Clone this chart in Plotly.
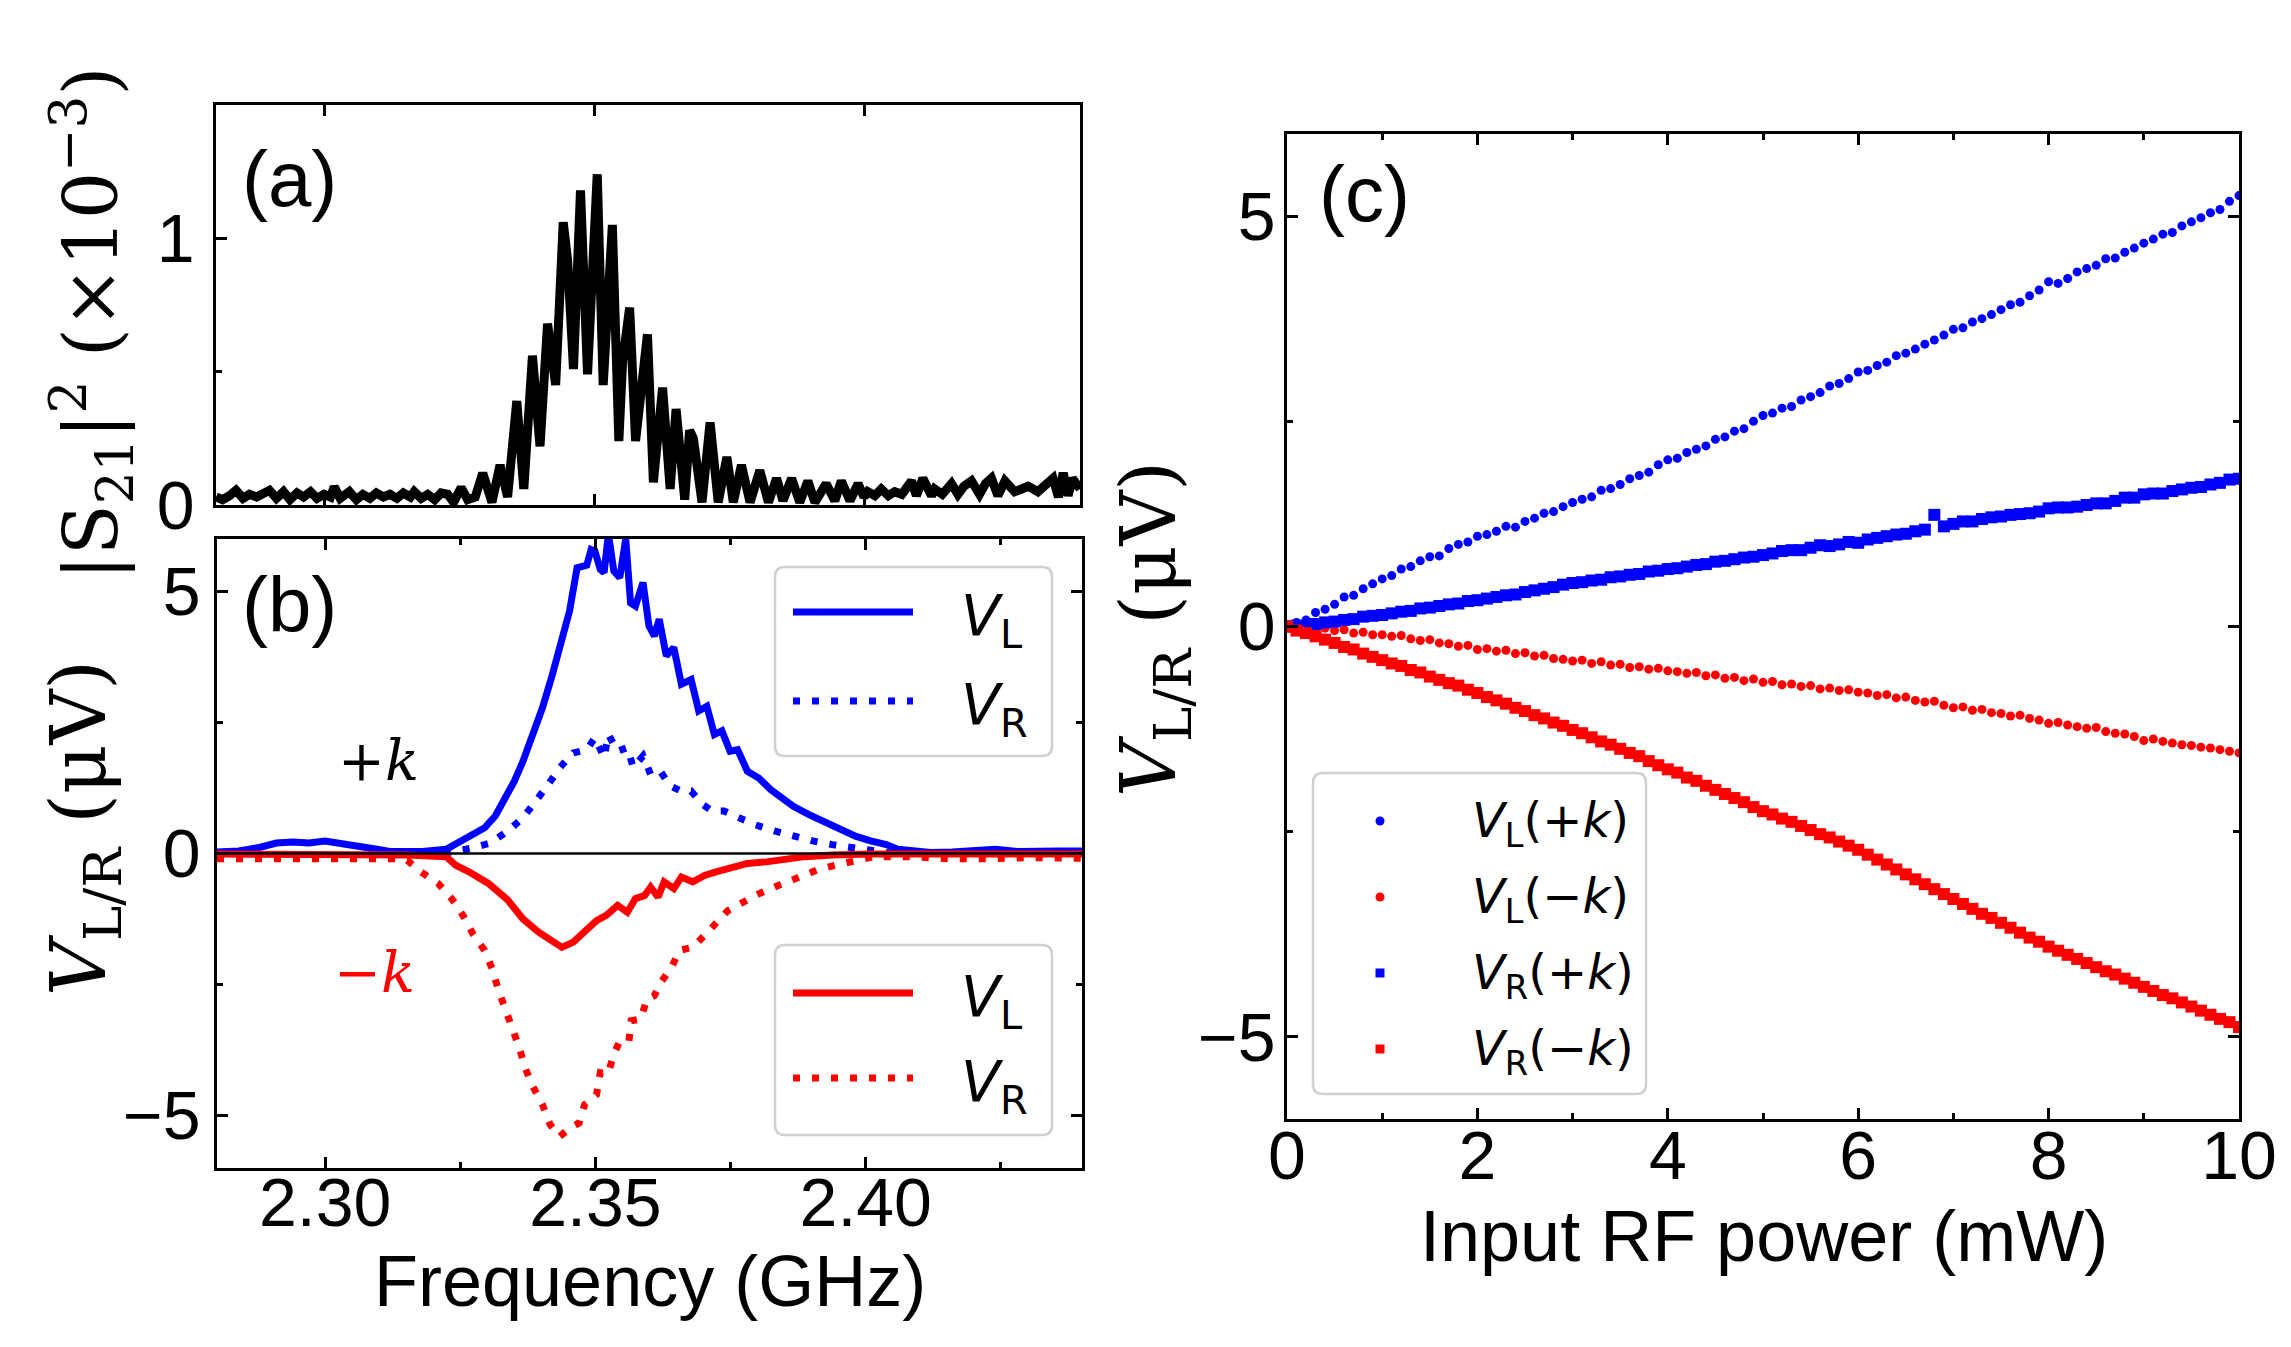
import plotly.graph_objects as go

W, H = 2291, 1347

# ---------------- Panel (a): |S21|^2 (x1e-3) vs frequency ----------------
freq_a = [2.2800, 2.2812, 2.2825, 2.2837, 2.2850, 2.2862, 2.2875, 2.2887, 2.2899, 2.2912,
          2.2925, 2.2937, 2.2950, 2.2962, 2.2975, 2.2987, 2.3000, 2.3012, 2.3019, 2.3030,
          2.3047, 2.3060, 2.3072, 2.3085, 2.3097, 2.3110, 2.3122, 2.3135, 2.3147, 2.3160,
          2.3167, 2.3180, 2.3192, 2.3205, 2.3217, 2.3229, 2.3240, 2.3254, 2.3266, 2.3280,
          2.3294, 2.3311, 2.3326, 2.3340, 2.3357, 2.3370, 2.3386, 2.3400, 2.3414, 2.3429,
          2.3443, 2.3451, 2.3462, 2.3475, 2.3488, 2.3506, 2.3517, 2.3534, 2.3546, 2.3553,
          2.3566, 2.3577, 2.3599, 2.3610, 2.3627, 2.3641, 2.3652, 2.3668, 2.3677, 2.3684,
          2.3700, 2.3715, 2.3730, 2.3746, 2.3758, 2.3773, 2.3789, 2.3807, 2.3823, 2.3838,
          2.3850, 2.3866, 2.3881, 2.3896, 2.3909, 2.3930, 2.3946, 2.3958, 2.3974, 2.3989,
          2.4000, 2.4007, 2.4020, 2.4032, 2.4045, 2.4057, 2.4070, 2.4088, 2.4097, 2.4109,
          2.4125, 2.4131, 2.4145, 2.4162, 2.4174, 2.4185, 2.4199, 2.4214, 2.4225, 2.4236,
          2.4248, 2.4261, 2.4279, 2.4292, 2.4304, 2.4322, 2.4335, 2.4350, 2.4360, 2.4369,
          2.4378, 2.4386, 2.4400]
s21 = [0.030, 0.020, 0.035, 0.055, 0.025, 0.040, 0.030, 0.045, 0.055, 0.025,
       0.050, 0.020, 0.045, 0.030, 0.050, 0.025, 0.040, 0.030, 0.068, 0.025,
       0.050, 0.020, 0.040, 0.025, 0.045, 0.030, 0.040, 0.025, 0.045, 0.030,
       0.050, 0.025, 0.040, 0.020, 0.045, 0.040, 0.010, 0.065, 0.020, 0.030,
       0.120, 0.010, 0.150, 0.030, 0.390, 0.060, 0.560, 0.220, 0.680, 0.450,
       1.060, 0.920, 0.510, 1.180, 0.490, 1.240, 0.450, 1.050, 0.240, 0.540,
       0.740, 0.240, 0.640, 0.085, 0.440, 0.060, 0.360, 0.020, 0.280, 0.250,
       0.010, 0.310, 0.010, 0.180, 0.010, 0.150, 0.010, 0.130, 0.010, 0.100,
       0.016, 0.100, 0.010, 0.090, 0.010, 0.080, 0.016, 0.090, 0.016, 0.080,
       0.030, 0.050, 0.035, 0.060, 0.035, 0.050, 0.040, 0.090, 0.035, 0.100,
       0.035, 0.060, 0.040, 0.080, 0.040, 0.070, 0.090, 0.040, 0.080, 0.100,
       0.035, 0.090, 0.050, 0.060, 0.070, 0.050, 0.070, 0.100, 0.030, 0.120,
       0.035, 0.100, 0.060]

# ---------------- Panel (b): V_L / V_R vs frequency ----------------
freq_vl_pk = [2.2800, 2.2840, 2.2880, 2.2910, 2.2940, 2.2970, 2.3000, 2.3030, 2.3060, 2.3090,
              2.3120, 2.3150, 2.3180, 2.3224, 2.3245, 2.3270, 2.3295, 2.3315, 2.3331, 2.3350,
              2.3366, 2.3385, 2.3402, 2.3420, 2.3438, 2.3452, 2.3466, 2.3484, 2.3492, 2.3499,
              2.3509, 2.3516, 2.3524, 2.3534, 2.3545, 2.3556, 2.3565, 2.3574, 2.3588, 2.3599,
              2.3609, 2.3618, 2.3631, 2.3645, 2.3659, 2.3677, 2.3691, 2.3706, 2.3720, 2.3734,
              2.3749, 2.3763, 2.3781, 2.3802, 2.3824, 2.3845, 2.3866, 2.3895, 2.3924, 2.3952,
              2.3981, 2.4009, 2.4038, 2.4059, 2.4080, 2.4120, 2.4160, 2.4200, 2.4240, 2.4280,
              2.4320, 2.4360, 2.4400]
vl_pk = [0.03, 0.05, 0.12, 0.20, 0.22, 0.20, 0.24, 0.20, 0.14, 0.09,
         0.04, 0.03, 0.04, 0.08, 0.20, 0.33, 0.49, 0.72, 1.00, 1.38,
         1.76, 2.30, 2.78, 3.40, 4.05, 4.62, 5.45, 5.50, 5.80, 5.77,
         5.42, 5.36, 6.10, 5.39, 5.26, 6.00, 4.78, 4.72, 5.17, 4.34,
         4.15, 4.47, 3.77, 3.93, 3.23, 3.32, 2.72, 2.81, 2.27, 2.34,
         1.95, 1.98, 1.57, 1.44, 1.22, 1.06, 0.90, 0.74, 0.59, 0.46,
         0.33, 0.24, 0.17, 0.08, 0.05, 0.02, 0.03, 0.06, 0.08, 0.04,
         0.06, 0.05, 0.05]

freq_vr_pk = [2.3220, 2.3245, 2.3274, 2.3306, 2.3338, 2.3366, 2.3391, 2.3413, 2.3434, 2.3459,
              2.3484, 2.3499, 2.3516, 2.3524, 2.3541, 2.3559, 2.3570, 2.3588, 2.3602, 2.3620,
              2.3638, 2.3659, 2.3677, 2.3698, 2.3716, 2.3738, 2.3766, 2.3795, 2.3831, 2.3866,
              2.3902, 2.3938, 2.3981, 2.4009, 2.4050]
vr_pk = [0.00, 0.04, 0.11, 0.20, 0.43, 0.68, 1.00, 1.32, 1.64, 1.92,
         1.98, 2.21, 1.83, 2.27, 1.95, 2.02, 1.64, 1.86, 1.51, 1.57,
         1.29, 1.19, 1.19, 0.94, 0.81, 0.81, 0.68, 0.55, 0.43, 0.33,
         0.24, 0.17, 0.11, 0.04, 0.00]

freq_vl_mk = [2.2800, 2.3000, 2.3152, 2.3224, 2.3241, 2.3266, 2.3302, 2.3338, 2.3366, 2.3395,
              2.3420, 2.3438, 2.3459, 2.3481, 2.3502, 2.3520, 2.3541, 2.3559, 2.3574, 2.3591,
              2.3602, 2.3616, 2.3627, 2.3645, 2.3659, 2.3680, 2.3702, 2.3723, 2.3752, 2.3781,
              2.3816, 2.3852, 2.3888, 2.3938, 2.4009, 2.4400]
vl_mk = [-0.01, -0.01, -0.03, -0.06, -0.22, -0.35, -0.57, -0.89, -1.25, -1.50,
         -1.69, -1.79, -1.69, -1.47, -1.28, -1.18, -0.99, -1.12, -0.86, -0.80,
         -0.64, -0.83, -0.54, -0.67, -0.45, -0.54, -0.42, -0.35, -0.26, -0.19,
         -0.16, -0.10, -0.06, -0.03, -0.01, -0.01]

freq_vr_mk = [2.2800, 2.2900, 2.3000, 2.3100, 2.3137, 2.3152, 2.3177, 2.3209, 2.3234, 2.3255,
              2.3273, 2.3295, 2.3309, 2.3320, 2.3334, 2.3348, 2.3359, 2.3370, 2.3384, 2.3402,
              2.3416, 2.3434, 2.3452, 2.3470, 2.3480, 2.3502, 2.3509, 2.3523, 2.3534, 2.3545,
              2.3562, 2.3566, 2.3584, 2.3595, 2.3609, 2.3623, 2.3641, 2.3655, 2.3680, 2.3702,
              2.3723, 2.3745, 2.3773, 2.3802, 2.3838, 2.3873, 2.3909, 2.3945, 2.3981, 2.4016,
              2.4080, 2.4152, 2.4223, 2.4300, 2.4400]
vr_mk = [-0.10, -0.10, -0.09, -0.10, -0.10, -0.13, -0.35, -0.57, -0.86, -1.18,
         -1.53, -1.85, -2.20, -2.59, -2.97, -3.32, -3.70, -4.09, -4.44, -4.79,
         -5.17, -5.40, -5.24, -5.14, -4.79, -4.60, -4.18, -4.21, -3.83, -3.58,
         -3.58, -3.19, -3.16, -2.78, -2.71, -2.43, -2.17, -1.85, -1.79, -1.56,
         -1.34, -1.09, -0.93, -0.77, -0.61, -0.45, -0.32, -0.22, -0.13, -0.06,
         -0.06, -0.10, -0.10, -0.08, -0.09]

# ---------------- Panel (c): V vs input RF power ----------------
power = [round(0.1 * i, 1) for i in range(101)]
c_vl_pk = [0.02, 0.05, 0.08, 0.17, 0.21, 0.27, 0.36, 0.38, 0.46, 0.52,
           0.58, 0.62, 0.70, 0.73, 0.80, 0.85, 0.86, 0.95, 1.00, 1.03,
           1.10, 1.12, 1.16, 1.22, 1.21, 1.28, 1.32, 1.38, 1.40, 1.46,
           1.51, 1.55, 1.58, 1.66, 1.68, 1.73, 1.80, 1.84, 1.88, 1.97,
           2.03, 2.05, 2.12, 2.16, 2.20, 2.28, 2.31, 2.38, 2.41, 2.50,
           2.57, 2.60, 2.66, 2.68, 2.76, 2.80, 2.85, 2.93, 2.96, 3.02,
           3.10, 3.12, 3.18, 3.22, 3.30, 3.33, 3.38, 3.44, 3.49, 3.55,
           3.62, 3.64, 3.71, 3.75, 3.80, 3.86, 3.92, 3.95, 4.03, 4.10,
           4.20, 4.18, 4.24, 4.32, 4.36, 4.40, 4.48, 4.49, 4.56, 4.61,
           4.67, 4.72, 4.78, 4.80, 4.88, 4.93, 4.98, 5.04, 5.08, 5.18,
           5.25]
c_vl_mk = [0.00, -0.01, 0.00, -0.03, -0.02, -0.05, -0.04, -0.08, -0.07, -0.10,
           -0.10, -0.12, -0.11, -0.15, -0.17, -0.16, -0.20, -0.21, -0.24, -0.23,
           -0.28, -0.27, -0.30, -0.29, -0.33, -0.32, -0.36, -0.35, -0.39, -0.40,
           -0.42, -0.41, -0.45, -0.43, -0.47, -0.46, -0.50, -0.49, -0.52, -0.51,
           -0.54, -0.55, -0.57, -0.56, -0.60, -0.59, -0.63, -0.62, -0.66, -0.64,
           -0.68, -0.67, -0.71, -0.70, -0.73, -0.72, -0.76, -0.75, -0.78, -0.77,
           -0.80, -0.81, -0.84, -0.83, -0.87, -0.86, -0.90, -0.92, -0.91, -0.96,
           -0.99, -0.98, -1.02, -1.01, -1.05, -1.06, -1.09, -1.08, -1.12, -1.14,
           -1.18, -1.17, -1.20, -1.22, -1.24, -1.23, -1.28, -1.30, -1.31, -1.34,
           -1.39, -1.37, -1.40, -1.42, -1.44, -1.45, -1.47, -1.48, -1.50, -1.52,
           -1.54]
c_vr_pk = [0.00, 0.01, -0.01, 0.03, 0.05, 0.06, 0.08, 0.09, 0.12, 0.13,
           0.14, 0.16, 0.18, 0.19, 0.22, 0.23, 0.25, 0.27, 0.28, 0.31,
           0.32, 0.34, 0.36, 0.38, 0.39, 0.42, 0.44, 0.46, 0.48, 0.51,
           0.53, 0.54, 0.56, 0.57, 0.60, 0.61, 0.63, 0.64, 0.67, 0.68,
           0.70, 0.71, 0.73, 0.75, 0.76, 0.79, 0.80, 0.82, 0.84, 0.85,
           0.87, 0.89, 0.92, 0.93, 0.93, 0.96, 0.99, 0.98, 1.00, 1.03,
           1.02, 1.06, 1.08, 1.10, 1.12, 1.13, 1.16, 1.18, 1.36, 1.22,
           1.25, 1.28, 1.28, 1.31, 1.33, 1.34, 1.36, 1.37, 1.38, 1.40,
           1.44, 1.45, 1.45, 1.46, 1.48, 1.50, 1.50, 1.53, 1.57, 1.57,
           1.61, 1.62, 1.62, 1.65, 1.67, 1.69, 1.70, 1.73, 1.75, 1.79,
           1.80]
c_vr_mk = [0.00, -0.05, -0.08, -0.12, -0.16, -0.20, -0.25, -0.28, -0.33, -0.37,
           -0.41, -0.45, -0.48, -0.53, -0.56, -0.61, -0.65, -0.69, -0.72, -0.77,
           -0.81, -0.86, -0.90, -0.94, -0.99, -1.03, -1.08, -1.12, -1.17, -1.21,
           -1.26, -1.30, -1.35, -1.40, -1.44, -1.49, -1.54, -1.58, -1.64, -1.69,
           -1.74, -1.78, -1.84, -1.88, -1.94, -1.99, -2.04, -2.09, -2.14, -2.20,
           -2.25, -2.29, -2.34, -2.38, -2.43, -2.48, -2.53, -2.57, -2.62, -2.67,
           -2.72, -2.78, -2.84, -2.90, -2.96, -3.02, -3.08, -3.14, -3.20, -3.26,
           -3.32, -3.38, -3.44, -3.50, -3.55, -3.61, -3.67, -3.73, -3.79, -3.84,
           -3.90, -3.95, -4.00, -4.05, -4.10, -4.15, -4.20, -4.24, -4.29, -4.34,
           -4.39, -4.44, -4.49, -4.53, -4.58, -4.63, -4.68, -4.73, -4.78, -4.82,
           -4.88]

BLUE = "#0000ff"
RED = "#ff0000"
SANS = "Liberation Sans, Arial, sans-serif"
SERIF = "DejaVu Serif, serif"
DVS = "DejaVu Sans, sans-serif"
DOT = "7px,12px"


def px(x):
    return x / W


def py(y):
    return 1 - y / H


fig = go.Figure()

# panel (a)
fig.add_trace(go.Scatter(x=freq_a, y=s21, mode="lines", xaxis="x", yaxis="y",
                         line=dict(color="black", width=9), showlegend=False))
# panel (b)
fig.add_trace(go.Scatter(x=freq_vl_pk, y=vl_pk, mode="lines", xaxis="x2", yaxis="y2",
                         line=dict(color=BLUE, width=7), showlegend=False))
fig.add_trace(go.Scatter(x=freq_vr_pk, y=vr_pk, mode="lines", xaxis="x2", yaxis="y2",
                         line=dict(color=BLUE, width=7, dash=DOT), showlegend=False))
fig.add_trace(go.Scatter(x=freq_vl_mk, y=vl_mk, mode="lines", xaxis="x2", yaxis="y2",
                         line=dict(color=RED, width=7), showlegend=False))
fig.add_trace(go.Scatter(x=freq_vr_mk, y=vr_mk, mode="lines", xaxis="x2", yaxis="y2",
                         line=dict(color=RED, width=7, dash=DOT), showlegend=False))
# panel (c)
fig.add_trace(go.Scatter(x=power, y=c_vl_pk, mode="markers", xaxis="x3", yaxis="y3",
                         marker=dict(color=BLUE, size=9, symbol="circle", line=dict(width=0)),
                         showlegend=False))
fig.add_trace(go.Scatter(x=power, y=c_vl_mk, mode="markers", xaxis="x3", yaxis="y3",
                         marker=dict(color=RED, size=9, symbol="circle", line=dict(width=0)),
                         showlegend=False))
fig.add_trace(go.Scatter(x=power, y=c_vr_pk, mode="markers", xaxis="x3", yaxis="y3",
                         marker=dict(color=BLUE, size=12, symbol="square", line=dict(width=0)),
                         showlegend=False))
fig.add_trace(go.Scatter(x=power, y=c_vr_mk, mode="markers", xaxis="x3", yaxis="y3",
                         marker=dict(color=RED, size=12, symbol="square", line=dict(width=0)),
                         showlegend=False))

tickfont = dict(family=SANS, size=68, color="black")
common = dict(showline=True, linecolor="black", linewidth=2.5, ticks="inside",
              ticklen=11, tickwidth=2.5, tickcolor="black", showgrid=False,
              zeroline=False, tickfont=tickfont, automargin=False)
minor_style = dict(ticks="inside", ticklen=6, tickwidth=2.5, tickcolor="black")

fig.update_layout(
    template="none",
    width=W, height=H,
    margin=dict(l=0, r=0, t=0, b=0, pad=0),
    paper_bgcolor="white", plot_bgcolor="white",
    showlegend=False,
    xaxis=dict(domain=[px(208), px(1072)], anchor="y", range=[2.28, 2.44],
               tick0=2.30, dtick=0.05, showticklabels=False, mirror="ticks", **common),
    yaxis=dict(domain=[py(497), py(97)], anchor="x", range=[0, 1.5],
               tickvals=[0, 1], ticktext=["0", "1"], mirror=True, ticklabelstandoff=5,
               minor=dict(tickvals=[0.5], **minor_style), **common),
    xaxis2=dict(domain=[px(209), px(1074)], anchor="y2", range=[2.28, 2.44],
                tick0=2.30, dtick=0.05, tickformat=".2f", mirror="ticks",
                ticklabelstandoff=-26,
                minor=dict(dtick=0.025, tick0=2.30, **minor_style), **common),
    yaxis2=dict(domain=[py(1160), py(531)], anchor="x2", range=[-6, 6],
                tickvals=[-5, 0, 5], ticktext=["\u22125", "0", "5"], mirror="ticks",
                ticklabelstandoff=0,
                minor=dict(tickvals=[-2.5, 2.5], **minor_style), **common),
    xaxis3=dict(domain=[px(1279), px(2231)], anchor="y3", range=[0, 10],
                tick0=0, dtick=2, mirror="ticks", ticklabelstandoff=-24,
                minor=dict(dtick=1, **minor_style), **common),
    yaxis3=dict(domain=[py(1111), py(126)], anchor="x3", range=[-6, 6],
                tickvals=[-5, 0, 5], ticktext=["\u22125", "0", "5"], mirror="ticks",
                ticklabelstandoff=-5,
                minor=dict(tickvals=[-2.5, 2.5], **minor_style), **common),
)

# zero line in panel (b)
fig.add_shape(type="line", xref="x2 domain", yref="y2", x0=0, x1=1, y0=0, y1=0,
              line=dict(color="black", width=2.5), layer="above")

annotations = []


def ann(text, x, y, size, family=SANS, color="black", xanchor="center",
        yanchor="middle", angle=0):
    annotations.append(dict(text=text, x=px(x), y=py(y), xref="paper", yref="paper",
                            showarrow=False, xanchor=xanchor, yanchor=yanchor,
                            textangle=angle,
                            font=dict(family=family, size=size, color=color)))


# panel labels
ann("(a)", 232, 171, 78, xanchor="left")
ann("(b)", 232, 597, 78, xanchor="left")
ann("(c)", 1309, 186, 78, xanchor="left")

# axis titles
ann("Frequency (GHz)", 642, 1273, 72)
ann("Input RF power (mW)", 1756, 1228, 72)
ann("|S<sub>21</sub>|<sup>2</sup> (×10<sup>−3</sup>)", 84, 316, 74, family=SERIF, angle=-90)
ann("<i>V</i><sub>L/R</sub> (μV)", 76, 820, 76, family=SERIF, angle=-90)
ann("<i>V</i><sub>L/R</sub> (μV)", 1146, 621, 76, family=SERIF, angle=-90)

# +k / -k labels
ann("+<i>k</i>", 370, 752, 56, family=SERIF)
ann("−<i>k</i>", 366, 964, 56, family=SERIF, color=RED)


def rounded_box(x0, y0, x1, y1, r=10):
    rx, ry = r / W, r / H
    X0, X1 = px(x0), px(x1)
    Y0, Y1 = py(y1), py(y0)  # bottom, top in paper
    path = (f"M{X0 + rx},{Y0} L{X1 - rx},{Y0} Q{X1},{Y0} {X1},{Y0 + ry} "
            f"L{X1},{Y1 - ry} Q{X1},{Y1} {X1 - rx},{Y1} L{X0 + rx},{Y1} "
            f"Q{X0},{Y1} {X0},{Y1 - ry} L{X0},{Y0 + ry} Q{X0},{Y0} {X0 + rx},{Y0} Z")
    fig.add_shape(type="path", xref="paper", yref="paper", path=path,
                  fillcolor="rgba(255,255,255,0.85)", line=dict(color="#d0d0d0", width=2.5),
                  layer="above")


# legends panel (b)
for (top, bot, col, yl, yd) in [(559, 748, BLUE, 604, 693), (937, 1127, RED, 985, 1070)]:
    rounded_box(767, top, 1044, bot)
    fig.add_shape(type="line", xref="paper", yref="paper", x0=px(785), x1=px(905),
                  y0=py(yl), y1=py(yl), line=dict(color=col, width=7), layer="above")
    fig.add_shape(type="line", xref="paper", yref="paper", x0=px(785), x1=px(905),
                  y0=py(yd), y1=py(yd), line=dict(color=col, width=7, dash=DOT),
                  layer="above")
    ann("<i>V</i><sub>L</sub>", 951, yl + 8, 57, family=DVS, xanchor="left")
    ann("<i>V</i><sub>R</sub>", 951, yd + 8, 57, family=DVS, xanchor="left")

# legend panel (c)
rounded_box(1305, 765, 1638, 1086)
items_c = [("<i>V</i><sub>L</sub>(+<i>k</i>)", BLUE, "circle", 813),
           ("<i>V</i><sub>L</sub>(−<i>k</i>)", RED, "circle", 889),
           ("<i>V</i><sub>R</sub>(+<i>k</i>)", BLUE, "rect", 965),
           ("<i>V</i><sub>R</sub>(−<i>k</i>)", RED, "rect", 1041)]
for text, col, shp, yy in items_c:
    h = 4.5
    fig.add_shape(type=shp, xref="paper", yref="paper", x0=px(1372 - h), x1=px(1372 + h),
                  y0=py(yy + h), y1=py(yy - h), fillcolor=col, line=dict(width=0),
                  layer="above")
    ann(text, 1462, yy + 2, 48, family=DVS, xanchor="left")

fig.update_layout(annotations=annotations)
fig.write_html("out.html")
